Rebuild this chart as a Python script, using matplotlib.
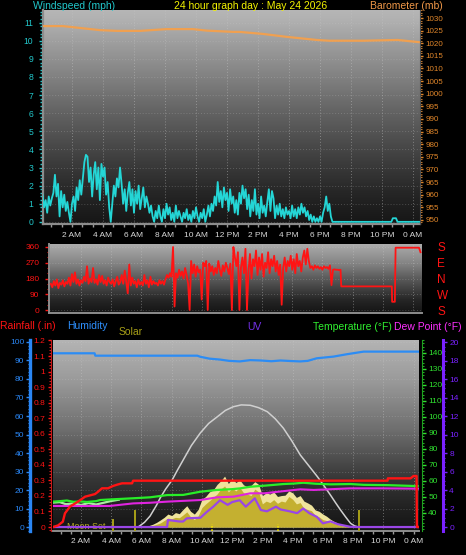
import numpy as np
import matplotlib
matplotlib.use("Agg")
import matplotlib.pyplot as plt
import matplotlib.transforms as mtransforms
from matplotlib.colors import LinearSegmentedColormap
from matplotlib.ticker import MultipleLocator, FixedLocator, FuncFormatter

plt.rcParams['font.family'] = ['Liberation Sans', 'DejaVu Sans']

# ---------------- data ----------------
title = "24 hour graph day : May 24 2026"
hour_ticks = [2, 4, 6, 8, 10, 12, 14, 16, 18, 20, 22, 24]
hour_labels = ["2 AM", "4 AM", "6 AM", "8 AM", "10 AM", "12 PM",
               "2 PM", "4 PM", "6 PM", "8 PM", "10 PM", "0 AM"]

# wind speed (mph), one reading every 6 minutes from 00:06
wind_mph = [
    1.5, 0.8, 1.2, 0.5, 1.4, 0.9, 1.3, 1.6, 2.6,
    1.4, 2.1, 0.3, 1.7, 0.8, 1.5, 0.6, 1.1, 0.5, 0.0,
    1.0, 1.4, 0.6, 1.9, 1.2, 2.3, 1.5, 2.4, 3.3, 3.7,
    3.6, 2.2, 3.0, 1.4, 2.6, 3.3, 1.8, 3.0, 1.2, 3.2,
    2.5, 3.0, 1.5, 2.2, 0.8, 0.0, 1.0, 2.0, 1.4, 2.4,
    1.9, 3.0, 2.1, 1.0, 1.8, 0.6, 1.6, 2.2, 0.9, 1.8,
    0.5, 1.7, 1.0, 2.0, 0.7, 1.3, 1.9, 0.8, 1.4, 1.0,
    0.5, 0.9, 0.3, 0.0, 0.6, 0.2, 0.9, 0.3, 0.0, 0.7,
    0.2, 1.0, 0.4, 0.8, 0.1, 0.5, 0.0, 0.9, 0.2, 0.6,
    0.3, 0.0, 0.5, 0.2, 0.7, 0.1, 0.4, 0.0, 0.6, 0.2,
    0.8, 0.3, 0.0, 0.5, 0.2, 0.7, 0.0, 0.4, 0.9, 0.3,
    1.0, 0.6, 1.4, 0.9, 2.2, 1.1, 1.7, 0.8, 1.9, 1.2,
    1.6, 0.6, 1.8, 1.0, 1.4, 0.5, 1.2, 0.4, 1.6, 1.0,
    2.0, 1.3, 1.8, 0.7, 1.5, 0.3, 1.2, 0.6, 1.8, 0.4,
    1.0, 0.2, 1.4, 0.5, 0.9, 0.3, 1.1, 1.8, 0.6, 1.7,
    1.3, 0.2, 0.9, 0.4, 1.0, 0.3, 0.7, 0.2, 0.8, 0.4,
    0.6, 0.2, 0.9, 0.3, 0.7, 0.2, 0.8, 0.4, 1.0, 0.5,
    0.8, 0.3, 0.6, 0.1, 0.4, 0.0, 0.3, 0.0, 0.2, 0.0,
    0.3, 0.0, 0.5, 0.8, 1.4, 0.6, 1.0, 0.3, 0.0, 0.0,
]
calm_hours = [18.9, 22.6, 22.7, 22.9, 23.0, 24.45]
calm_mph = [0.0, 0.0, 0.2, 0.2, 0.0, 0.0]

baro_hours = [0.1, 1.4, 3.8, 4.9, 6.4, 8.1, 9.8, 10.7, 12.4, 12.8, 14.3,
              15.9, 17.8, 18.6, 20.8, 23.0, 24.45]
baro_mb = [1026.8, 1026.8, 1025.2, 1024.9, 1024.9, 1025.6, 1025.6, 1025.0,
           1024.5, 1024.5, 1023.7, 1022.5, 1021.3, 1021.0, 1021.0, 1021.3, 1020.4]

# wind direction (deg), one reading every 6 minutes from 00:00
wind_dir = [
    150, 130, 165, 140, 175, 125, 155, 145, 170, 135,
    160, 150, 185, 140, 205, 160, 215, 150, 175, 140,
    170, 155, 190, 165, 250, 150, 180, 160, 240, 155,
    175, 145, 200, 160, 195, 150, 170, 140, 185, 160,
    150, 175, 135, 165, 190, 145, 160, 200, 150, 225,
    160, 95, 260, 140, 185, 150, 165, 130, 175, 145,
    160, 140, 200, 150, 170, 130, 190, 145, 165, 150,
    155, 140, 170, 150, 165, 145, 175, 200, 185, 210,
    190, 360, 20, 210, 185, 230, 195, 220, 180, 240,
    200, 150, 0, 280, 210, 260, 190, 250, 215, 230,
    60, 270, 250, 280, 0, 265, 220, 250, 200, 240,
    210, 280, 230, 195, 255, 220, 270, 240, 205, 265,
    0, 360, 300, 250, 330, 0, 240, 300, 210, 350,
    0, 220, 320, 180, 290, 250, 340, 200, 300, 230,
    320, 190, 270, 240, 330, 210, 290, 250, 310, 220,
    280, 200, 260, 30, 240, 300, 220, 280, 250, 310,
    230, 290, 210, 320, 250, 280, 220, 300, 340, 260,
    350, 280, 240, 250, 230, 255, 240, 250, 235, 245,
    230, 250, 240, 245, 235, 255, 142, 230, 232, 230,
]
dir_tail_hours = [19.0, 19.1, 19.2, 19.25, 22.6, 22.62, 22.8, 22.85, 24.4, 24.5]
dir_tail_deg = [230, 228, 230, 135, 135, 47, 47, 356, 356, 330]
dir_ticks = [0, 90, 180, 270, 360]
compass = ["S", "W", "N", "E", "S"]

rain_hours = [0.15, 0.48, 0.8, 0.94, 1.27, 1.8, 2.27, 2.93, 3.13, 3.39, 3.79,
              4.12, 4.45, 4.72, 5.38, 5.45, 22.28, 22.3, 23.8, 24.0, 24.2, 24.22, 24.36]
rain_in = [0.0, 0.01, 0.034, 0.088, 0.131, 0.163, 0.195, 0.212, 0.227, 0.249,
           0.249, 0.264, 0.274, 0.281, 0.281, 0.298, 0.298, 0.313, 0.313, 0.328,
           0.328, 0.0, 0.0]

hum_hours = [0.15, 2.9, 2.95, 9.7, 9.9, 10.5, 11.2, 11.8, 12.5, 13.2, 13.9,
             14.6, 15.2, 15.9, 16.5, 17.0, 17.6, 18.7, 19.6, 20.7, 24.36]
humidity = [93.9, 93.9, 92.6, 92.6, 92.0, 91.0, 90.5, 89.8, 89.5, 90.2, 90.0,
            89.6, 90.0, 89.7, 89.5, 89.8, 91.2, 92.1, 93.4, 94.8, 94.8]

temp_hours = [0.15, 0.6, 1.07, 1.5, 2.0, 2.4, 3.0, 3.26, 4.2, 5.45, 6.57, 7.7,
              8.76, 9.89, 11.0, 12.0, 12.54, 13.2, 14.3, 15.39, 16.1, 16.7,
              17.5, 18.5, 19.83, 20.7, 22.3, 24.27]
temp_f = [47.1, 47.4, 47.8, 47.0, 47.2, 46.9, 47.4, 48.1, 48.6, 49.2, 49.8,
          51.2, 51.3, 53.3, 54.4, 54.9, 55.4, 56.4, 57.2, 58.1, 58.4, 58.9,
          58.3, 57.9, 58.1, 57.6, 57.4, 56.8]
feel_hours = [0.15, 0.6, 1.0, 1.5, 2.0, 2.5, 3.0, 3.5, 4.0, 4.5]
feel_f = [46.5, 46.8, 45.5, 46.0, 45.0, 46.2, 45.3, 46.4, 47.5, 48.3]

dew_hours = [0.15, 3.9, 5.45, 6.57, 7.7, 9.9, 11.0, 12.1, 13.2, 14.1, 16.5,
             17.4, 19.8, 21.8, 24.3]
dew_f = [44.4, 44.4, 46.0, 46.4, 47.1, 48.1, 49.8, 50.2, 52.3, 52.3, 54.8,
         54.4, 55.4, 55.4, 55.2]

uv_hours = [0.15, 7.7, 7.75, 8.5, 8.76, 9.0, 9.9, 10.3, 10.75, 11.2, 11.7,
            12.0, 12.5, 12.9, 13.5, 13.9, 14.3, 14.9, 15.2, 15.8, 16.3, 16.7,
            17.1, 17.6, 18.0, 18.5, 19.0, 19.8, 20.2, 24.3]
uv_index = [0, 0, 0.76, 0.6, 0.6, 0.94, 1.0, 1.6, 2.2, 2.9, 2.4, 2.7, 2.9, 2.2,
            3.1, 1.84, 1.7, 2.2, 1.9, 1.7, 1.5, 2.0, 1.5, 1.1, 0.4, 0.6, 0.3,
            0.03, 0, 0]

# solar radiation (W/m2), every 15 minutes 06:00-20:00
solar_avg = [0, 1, 3, 8, 15, 22, 35, 48, 45, 52, 50, 65, 82, 55, 40, 60,
             105, 125, 142, 160, 178, 205, 222, 190, 210, 195, 215, 185,
             178, 170, 205, 190, 125, 140, 132, 148, 128, 140, 135, 165,
             150, 125, 132, 100, 95, 88, 62, 55, 40, 35, 25, 20, 12, 7, 4, 1, 0]
solar_hi = [0, 3, 8, 15, 25, 38, 52, 70, 62, 78, 72, 95, 115, 85, 70, 95,
            150, 165, 190, 200, 230, 250, 275, 235, 262, 240, 255, 228,
            218, 225, 245, 230, 170, 185, 178, 190, 165, 170, 172, 195,
            185, 160, 170, 140, 130, 118, 92, 85, 70, 58, 42, 30, 20, 12, 6, 2, 0]
solarmax_hours = [5.78, 6.2, 6.57, 7.0, 7.24, 7.6, 8.03, 8.4, 8.76, 9.3, 9.89,
                  10.45, 11.02, 11.55, 12.07, 12.6, 13.2, 13.75, 14.33, 14.85,
                  15.39, 15.95, 16.51, 17.1, 17.64, 18.1, 18.5, 18.85, 19.17,
                  19.5, 19.83, 20.1, 20.36]
solar_max = [0, 25, 59, 118, 157, 205, 254, 310, 362, 440, 508, 560, 596, 630,
             650, 660, 658, 645, 623, 585, 534, 465, 389, 328, 272, 220, 173,
             130, 92, 55, 20, 6, 0]

moonset_hour = 4.12
sun_hours = [5.58, 20.42]
transit_hours = [10.68, 15.06]

# ---------------- layout helpers ----------------
W, H = 466, 555


def px_rect(x0, y0, x1, y1):
    return [x0 / W, 1 - y1 / H, (x1 - x0) / W, (y1 - y0) / H]


def shade(ax, stops):
    cmap = LinearSegmentedColormap.from_list("shade", stops)
    ax.imshow(np.linspace(0, 1, 256).reshape(-1, 1), cmap=cmap, origin="lower",
              extent=[0, 1, 0, 1], transform=ax.transAxes, aspect="auto", zorder=0)


def bare(ax):
    for s in ax.spines.values():
        s.set_visible(False)
    ax.set_facecolor("none")


def twin(ax):
    t = ax.twinx()
    bare(t)
    return t


def time_axis(ax, xlim, labels=True, pad=3):
    ax.set_xlim(*xlim)
    ax.xaxis.set_major_locator(FixedLocator(hour_ticks))
    ax.xaxis.set_minor_locator(MultipleLocator(2 / 3))
    if labels:
        ax.set_xticklabels(hour_labels)
    else:
        ax.set_xticklabels([])
    ax.tick_params(axis="x", which="both", colors="#9a9a9a", length=2.5, width=1,
                   labelcolor="#d8d8d8", labelsize=6, pad=pad)
    ax.grid(axis="x", which="major", color="#c8c8c8", ls=(0, (1, 2)), lw=0.7, alpha=0.45)
    ax.grid(axis="y", which="major", color="#d0d0d0", ls=(0, (1, 2)), lw=0.7, alpha=0.25)


fig = plt.figure(figsize=(W / 100, H / 100), dpi=100, facecolor="black")

CYAN = "#22c8cc"
RED = "#ff1414"
BLUE = "#2a86f4"
GREEN = "#28ee28"
MAGENTA = "#e024e0"
PURPLE = "#7a22ff"
OLIVE = "#a8a018"
GRAYSPINE = "#8c8c8c"

# ---------------- top: wind speed / barometer ----------------
ax_w = fig.add_axes(px_rect(43, 10, 420, 224))
bare(ax_w)
shade(ax_w, [(0.0, "#161616"), (0.145, "#262626"), (0.30, "#3e3e3e"),
             (0.53, "#646464"), (0.77, "#909090"), (0.95, "#b0b0b0"), (1.0, "#b6b6b6")])
wind_hours = np.round(0.1 + 0.1 * np.arange(len(wind_mph)), 2)
ax_w.plot(list(wind_hours) + calm_hours[1:], wind_mph + calm_mph[1:],
          color="#24d6d6", lw=1.3, zorder=3)
ax_w.set_ylim(-0.12, 11.7)
ax_w.yaxis.set_major_locator(MultipleLocator(1))
ax_w.yaxis.set_minor_locator(MultipleLocator(0.2))
ax_w.tick_params(axis="y", which="major", colors=CYAN, length=3, width=1,
                 labelsize=6.2, pad=4)
ax_w.tick_params(axis="y", which="minor", colors=CYAN, length=2, width=1)
time_axis(ax_w, (0.13, 24.45), pad=3.2)
for side in ("left", "bottom"):
    ax_w.spines[side].set_visible(True)
    ax_w.spines[side].set_color(GRAYSPINE)
    ax_w.spines[side].set_linewidth(1.6)

ax_p = twin(ax_w)
ax_p.plot(baro_hours, baro_mb, color="#f0a050", lw=1.6)
ax_p.set_ylim(948.4, 1033.17)
ax_p.yaxis.set_major_locator(MultipleLocator(5))
ax_p.yaxis.set_minor_locator(MultipleLocator(1))
ax_p.tick_params(axis="y", which="major", colors="#e0862a", length=2.5, width=1,
                 labelsize=5.8, pad=1.5)
ax_p.tick_params(axis="y", which="minor", colors="#c07830", length=1.5, width=0.8)
ax_p.spines["right"].set_visible(True)
ax_p.spines["right"].set_color("#505050")

fig.text(33 / W, 1 - 6 / H, "Windspeed (mph)", color=CYAN, fontsize=7.5,
         ha="left", va="center")
fig.text(251 / W, 1 - 6 / H, title, color="#f4f400", fontsize=7.5,
         ha="center", va="center")
fig.text(443 / W, 1 - 6 / H, "Barometer (mb)", color="#f09848", fontsize=7.5,
         ha="right", va="center")

# ---------------- middle: wind direction ----------------
ax_d = fig.add_axes(px_rect(49, 244, 422, 313))
bare(ax_d)
shade(ax_d, [(0.0, "#141414"), (0.19, "#262626"), (0.33, "#3e3e3e"),
             (0.51, "#5c5c5c"), (0.72, "#848484"), (1.0, "#acacac")])
dir_hours = np.round(0.1 * np.arange(len(wind_dir)), 2)
ax_d.plot(list(dir_hours) + dir_tail_hours, wind_dir + dir_tail_deg,
          color=RED, lw=1.3, zorder=3)
ax_d.set_ylim(-17.1, 377.1)
ax_d.yaxis.set_major_locator(FixedLocator(dir_ticks))
ax_d.yaxis.set_minor_locator(MultipleLocator(30))
ax_d.tick_params(axis="y", which="major", colors=RED, length=3, width=1,
                 labelsize=6, pad=4)
ax_d.tick_params(axis="y", which="minor", colors=RED, length=1.5, width=0.8)
time_axis(ax_d, (-0.12, 24.6), labels=False)
ax_d.tick_params(axis="x", which="both", length=0)
for side in ("left", "bottom"):
    ax_d.spines[side].set_visible(True)
    ax_d.spines[side].set_color(GRAYSPINE)
    ax_d.spines[side].set_linewidth(1.4)

ax_c = twin(ax_d)
ax_c.set_ylim(-17.1, 377.1)
ax_c.yaxis.set_major_locator(FixedLocator(dir_ticks))
ax_c.set_yticklabels(compass)
ax_c.tick_params(axis="y", length=0, colors=RED, labelsize=8.5, pad=11)

# ---------------- bottom: rain / humidity / solar / UV / temperature ----------------
ax_s = fig.add_axes(px_rect(53, 340, 419, 531))
bare(ax_s)
shade(ax_s, [(0.0, "#141414"), (0.11, "#202020"), (0.27, "#363636"),
             (0.53, "#6e6e6e"), (0.79, "#9a9a9a"), (1.0, "#b4b4b4")])
solar_hours = np.round(6.0 + 0.25 * np.arange(len(solar_avg)), 2)
ax_s.fill_between(solar_hours, 0, solar_hi, color="#efe49c", lw=0, zorder=2)
ax_s.fill_between(solar_hours, 0, solar_avg, color="#c4b030", lw=0, zorder=2.2)
ax_s.plot(solarmax_hours, solar_max, color="#d0d0d0", lw=1.1, zorder=2.5)
ax_s.set_ylim(-21.6, 1010.8)
ax_s.yaxis.set_major_locator(MultipleLocator(100))
ax_s.tick_params(axis="y", which="both", length=0, labelleft=False, labelright=False)
time_axis(ax_s, (0.15, 24.36), pad=2.6)
ax_s.spines["bottom"].set_visible(True)
ax_s.spines["bottom"].set_color(GRAYSPINE)
ax_s.spines["bottom"].set_linewidth(1.4)

xblend = mtransforms.blended_transform_factory(ax_s.transData, ax_s.transAxes)
ax_s.plot([moonset_hour, moonset_hour], [0.0, 0.06], color=OLIVE, lw=1.4,
          transform=xblend, zorder=3)
for h in sun_hours:
    ax_s.plot([h, h], [0.0, 0.105], color=OLIVE, lw=1.4, transform=xblend, zorder=3)
for h in transit_hours:
    ax_s.plot([h, h], [0.0, 0.035], color="#f0e000", lw=1.2, ls=(0, (1, 1)),
              transform=xblend, zorder=3)
ax_s.annotate("Moon Set", xy=(moonset_hour, 0.022), xycoords=xblend,
              xytext=(-5.5, 0), textcoords="offset points", ha="right", va="center",
              color="#b4aa20", fontsize=6.4, zorder=4)

# UV
ax_u = twin(ax_s)
ax_u.plot(uv_hours, uv_index, color="#9a46e6", lw=1.6)
ax_u.set_ylim(-0.43, 20.22)
ax_u.yaxis.set_major_locator(MultipleLocator(2))
ax_u.yaxis.set_minor_locator(MultipleLocator(0.5))
ax_u.spines["right"].set_visible(True)
ax_u.spines["right"].set_position(("axes", 1.0656))
ax_u.spines["right"].set_color(PURPLE)
ax_u.spines["right"].set_linewidth(2.2)
ax_u.tick_params(axis="y", which="major", colors=PURPLE, length=3, width=1,
                 labelsize=6, pad=1.5)
ax_u.tick_params(axis="y", which="minor", colors=PURPLE, length=1.5, width=0.8)

# temperature + dew point
ax_t = twin(ax_s)
ax_t.plot(feel_hours, feel_f, color="#a8f0a0", lw=1.6)
ax_t.plot(dew_hours, dew_f, color=MAGENTA, lw=1.5)
ax_t.plot(temp_hours, temp_f, color=GREEN, lw=1.6)
ax_t.set_ylim(28.75, 148.1)
ax_t.yaxis.set_major_locator(FixedLocator(list(range(40, 150, 10))))
ax_t.yaxis.set_minor_locator(MultipleLocator(2))
ax_t.spines["right"].set_visible(True)
ax_t.spines["right"].set_position(("axes", 1.0082))
ax_t.spines["right"].set_color("#20a020")
ax_t.tick_params(axis="y", which="major", colors="#30e030", length=3, width=1,
                 labelsize=6, pad=1.5)
ax_t.tick_params(axis="y", which="minor", colors="#20b020", length=1.5, width=0.8)

# rainfall
ax_r = twin(ax_s)
ax_r.plot(rain_hours, rain_in, color=RED, lw=1.7)
ax_r.set_ylim(-0.0257, 1.203)
ax_r.yaxis.tick_left()
ax_r.yaxis.set_major_locator(MultipleLocator(0.1))
ax_r.yaxis.set_minor_locator(MultipleLocator(0.02))
ax_r.yaxis.set_major_formatter(FuncFormatter(lambda v, p: f"{v:g}" if abs(v) > 1e-9 else "0"))
ax_r.spines["left"].set_visible(True)
ax_r.spines["left"].set_position(("axes", -0.0055))
ax_r.spines["left"].set_color("#c81818")
ax_r.tick_params(axis="y", which="major", colors=RED, length=2.5, width=1,
                 labelsize=6, pad=1.5)
ax_r.tick_params(axis="y", which="minor", colors="#d02020", length=1.5, width=0.8)

# humidity
ax_h = twin(ax_s)
ax_h.plot(hum_hours, humidity, color="#2c8cf4", lw=1.6)
ax_h.set_ylim(-2.16, 101.08)
ax_h.yaxis.tick_left()
ax_h.yaxis.set_major_locator(MultipleLocator(10))
ax_h.yaxis.set_minor_locator(MultipleLocator(2))
ax_h.spines["left"].set_visible(True)
ax_h.spines["left"].set_position(("axes", -0.0628))
ax_h.spines["left"].set_color(BLUE)
ax_h.spines["left"].set_linewidth(2.4)
ax_h.tick_params(axis="y", which="major", colors=BLUE, length=3, width=1,
                 labelsize=6, pad=1.2)
ax_h.tick_params(axis="y", which="minor", colors=BLUE, length=1.5, width=0.8)

fig.text(0 / W, 1 - 326 / H, "Rainfall (.in)", color=RED, fontsize=7.5,
         ha="left", va="center")
fig.text(67 / W, 1 - 326 / H, "Humidity", color="#2e90ff", fontsize=7.5,
         ha="left", va="center")
fig.text(119 / W, 1 - 332 / H, "Solar", color=OLIVE, fontsize=7.5,
         ha="left", va="center")
fig.text(247 / W, 1 - 327 / H, "UV", color="#7430e8", fontsize=7.5,
         ha="left", va="center")
fig.text(313 / W, 1 - 327 / H, "Temperature (\u00b0F)", color="#30f030", fontsize=7.5,
         ha="left", va="center")
fig.text(394 / W, 1 - 327 / H, "Dew Point (\u00b0F)", color="#ff30ff", fontsize=7.5,
         ha="left", va="center")

fig.savefig("out.png", dpi=100, facecolor="black")
